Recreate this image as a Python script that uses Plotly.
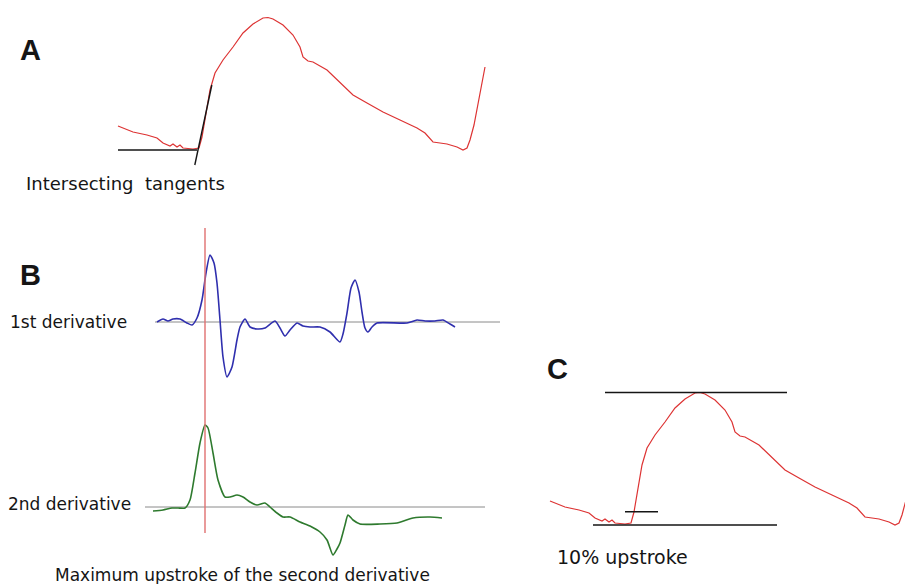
import plotly.graph_objects as go

W, H = 905, 584

# Action potential trace (ms from trace start, mV above resting baseline); shown in panels A and C
ap_t = [0, 15, 29, 39, 45, 52, 55, 59, 62, 65, 75, 81, 84, 87, 92, 97, 105, 115, 125, 135,
        145, 150, 155, 165, 175, 182, 185, 190, 195, 209, 222, 235, 249, 265, 282, 299,
        307, 315, 322, 329, 339, 345, 349, 352, 356, 359, 363, 367]
ap_v = [24, 18, 15, 12, 7, 4, 6, 3, 5, 2, 1, 2, 13, 30, 60, 77, 90, 103, 117, 126,
        132, 132.5, 131, 125, 115, 103, 93, 89, 88, 80, 67, 55, 47, 38, 30, 22,
        17, 8, 7, 6, 3, 0, 2, 10, 25, 40, 60, 83]

# First derivative of the upstroke window
d1_t = [7, 13, 18, 23, 30, 37, 42, 47, 52, 56, 60, 64, 67, 70, 73, 77, 82, 87, 90, 95,
        100, 107, 115, 125, 130, 135, 140, 147, 153, 160, 170, 180, 190, 193, 197, 201,
        205, 209, 212, 215, 218, 222, 227, 257, 267, 275, 285, 293, 300, 305]
d1_v = [0, 3, 1, 3, 3, -1, -3, 4, 22, 49, 67, 59, 39, 2, -35, -55, -45, -18, -5, 3,
        -5, -7, -6, 1, -6, -14, -8, -1, -4, -5, -5, -10, -20, -12, 9, 34,
        42, 30, 10, -6, -10, -5, -1, -1, 2, 1, 1, 2, -2, -5]

# Second derivative of the same window
d2_t = [3, 13, 22, 28, 35, 40, 45, 50, 55, 58, 63, 68, 75, 80, 87, 93, 100, 107, 115, 120,
        127, 133, 140, 150, 160, 170, 177, 183, 187, 190, 195, 198, 203, 210, 230, 247,
        263, 280, 292]
d2_v = [-4, -3, -1, -1, -1, 7, 34, 64, 82, 79, 54, 27, 10, 10, 12, 10, 5, 2, 4, 0,
        -6, -10, -10, -15, -19, -25, -33, -48, -42, -36, -18, -8, -13, -17, -17, -16,
        -11, -10, -11]

# Extents (ms) of the guide lines
a_base_span = [0, 79]          # resting-level tangent in A
a_up_tangent_v = [-15, 65]     # voltage span of the upstroke tangent
a_up_foot, a_up_slope = 80, 4.7
b_zero_span_1 = [5, 350]
b_zero_span_2 = [-5, 335]
c_peak_span = [55, 237]
c_rest_span = [43, 227]
c_ten_span = [75, 108]

RED = "#dd3333"
BLUE = "#2f2fae"
GREEN = "#2e7a2e"
GREY = "#8a8a8a"
INK = "#151515"
FONT = "DejaVu Sans, Liberation Sans, Arial, sans-serif"
HEAD_FONT = "Liberation Sans, Arial, sans-serif"

# Panel origins on the page (pixels): (x of t=0, y of value 0)
ORIG = {
    "A": (118, 150),
    "B1": (150, 322),
    "B2": (150, 507),
    "C": (550, 525),
}

fig = go.Figure()


def line(x, y, xa, ya, color, width, shape="linear"):
    fig.add_trace(go.Scatter(x=x, y=y, xaxis=xa, yaxis=ya, mode="lines",
                             line=dict(color=color, width=width, shape=shape,
                                       smoothing=0.6 if shape == "spline" else None),
                             hoverinfo="skip"))


# ---- Panel A: intersecting tangents
line(ap_t, ap_v, "x", "y", RED, 1.2)
line(a_base_span, [0, 0], "x", "y", INK, 1.4)
tan_t = [a_up_foot + v / a_up_slope for v in a_up_tangent_v]
line(tan_t, a_up_tangent_v, "x", "y", INK, 1.4)

# ---- Panel B: derivatives
line(b_zero_span_1, [0, 0], "x2", "y2", GREY, 1)
line(d1_t, d1_v, "x2", "y2", BLUE, 1.6, "spline")
line(b_zero_span_2, [0, 0], "x2", "y3", GREY, 1)
line(d2_t, d2_v, "x2", "y3", GREEN, 1.6, "spline")

# vertical marker at the peak of the second derivative
t_peak = d2_t[d2_v.index(max(d2_v))]
fig.add_shape(type="line", xref="x2", yref="paper", x0=t_peak, x1=t_peak,
              y0=1 - 533 / H, y1=1 - 228 / H, line=dict(color="#e07070", width=1.4))

# ---- Panel C: 10% upstroke
line(ap_t, ap_v, "x3", "y4", RED, 1.2)
v_max = max(ap_v)
v_rest = 0
line(c_peak_span, [v_max, v_max], "x3", "y4", INK, 1.4)
line(c_rest_span, [v_rest, v_rest], "x3", "y4", INK, 1.4)
v_ten = v_rest + 0.1 * (v_max - v_rest)
line(c_ten_span, [v_ten, v_ten], "x3", "y4", INK, 1.4)


def axis_x(ox):
    return dict(range=[-ox, W - ox], domain=[0, 1], visible=False, fixedrange=True)


def axis_y(oy):
    return dict(range=[oy - H, oy], domain=[0, 1], visible=False, fixedrange=True)


fig.update_layout(
    width=W, height=H,
    margin=dict(l=0, r=0, t=0, b=0),
    paper_bgcolor="white", plot_bgcolor="rgba(0,0,0,0)",
    showlegend=False,
    xaxis=axis_x(ORIG["A"][0]), yaxis=dict(axis_y(ORIG["A"][1]), anchor="x"),
    xaxis2=dict(axis_x(ORIG["B1"][0]), anchor="y2"),
    yaxis2=dict(axis_y(ORIG["B1"][1]), anchor="x2"),
    yaxis3=dict(axis_y(ORIG["B2"][1]), anchor="x2"),
    xaxis3=dict(axis_x(ORIG["C"][0]), anchor="y4"),
    yaxis4=dict(axis_y(ORIG["C"][1]), anchor="x3"),
)


def label(text, px, py, size, bold=False, anchor="left", family=FONT):
    fig.add_annotation(x=px / W, y=1 - py / H, xref="paper", yref="paper",
                       text=f"<b>{text}</b>" if bold else text, showarrow=False,
                       xanchor=anchor, yanchor="middle",
                       font=dict(family=family, size=size, color=INK))


label("A", 18, 50, 29, bold=True, family=HEAD_FONT)
label("B", 18, 275, 29, bold=True, family=HEAD_FONT)
label("C", 545, 369, 29, bold=True, family=HEAD_FONT)
label("Intersecting  tangents", 24, 184, 18)
label("1st derivative", 8, 322, 17)
label("2nd derivative", 6, 504, 17)
label("Maximum upstroke of the second derivative", 242, 575, 17, anchor="center")
label("10% upstroke", 555, 557, 19)

fig.write_html("out.html")
